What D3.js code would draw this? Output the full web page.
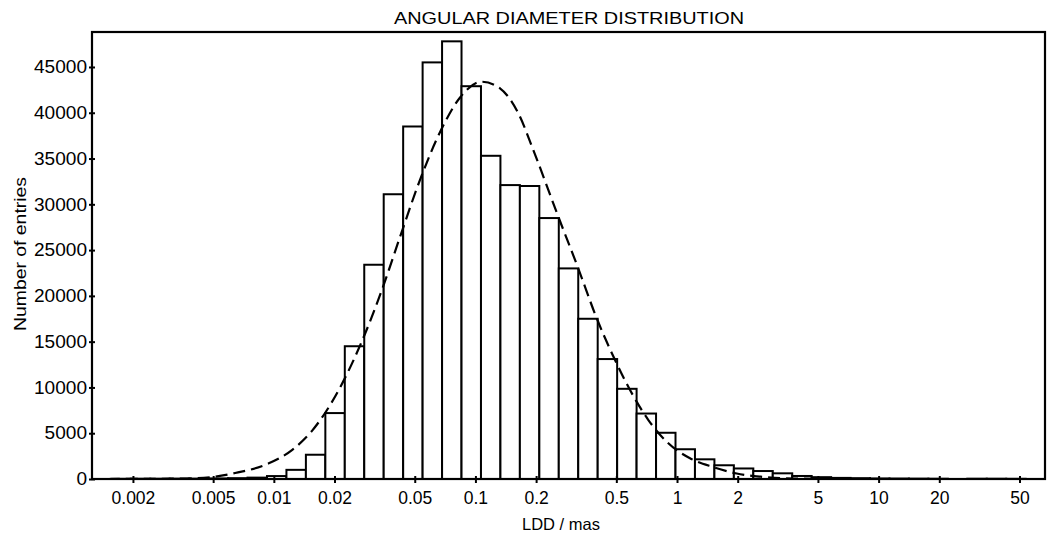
<!DOCTYPE html>
<html>
<head>
<meta charset="utf-8">
<script src="https://cdn.jsdelivr.net/npm/d3@7"></script>
<style>
  body { margin: 0; background: #fff; }
  svg text { font-family: "Liberation Sans", Arial, sans-serif; fill: #000; }
</style>
</head>
<body>
<svg id="chart" width="1051" height="542"></svg>
<script>
// histogram bins: log10 of the lower edge of each bin (mas), plus final upper edge
const binEdgesLog = [
  -2.806, -2.7095, -2.613, -2.5165, -2.420, -2.3235, -2.227, -2.1305,
  -2.034, -1.9375, -1.841, -1.7445, -1.648, -1.5515, -1.455, -1.3585,
  -1.262, -1.1655, -1.069, -0.9725, -0.876, -0.7795, -0.683, -0.5865,
  -0.490, -0.3935, -0.297, -0.2005, -0.104, -0.0075, 0.089, 0.1855,
  0.282, 0.3785, 0.475, 0.5715, 0.668, 0.7645, 0.861, 0.9575,
  1.054, 1.1505, 1.247, 1.3435, 1.440, 1.5365, 1.633, 1.7295
];
// number of entries in each bin
const binCounts = [
  20, 30, 30, 40, 40, 60, 90, 150,
  320, 1000, 2650, 7200, 14500, 23400, 31100, 38500,
  45500, 47800, 42900, 35300, 32100, 32000, 28500, 23000,
  17500, 13100, 9850, 7150, 5050, 3250, 2150, 1500,
  1150, 870, 620, 330, 200, 120, 90, 60,
  50, 40, 30, 0, 30, 30, 20
];
// fitted curve (dashed)
const fitX = [0.0015, 0.0035, 0.00493, 0.00643, 0.00944, 0.0123, 0.01546, 0.01795, 0.02213, 0.0273,
  0.0343, 0.0423, 0.0531, 0.0667, 0.0839, 0.1074, 0.1324, 0.1633, 0.1937, 0.2577,
  0.3236, 0.3997, 0.4926, 0.5847, 0.7211, 0.9057, 1.160, 1.514, 1.977, 2.6, 3.8, 7.2];
const fitY = [0, 40, 218, 650, 1715, 3160, 5260, 7210, 10690, 15010,
  20610, 26470, 32670, 37870, 41670, 43390, 42670, 39940, 35930, 28650,
  23010, 17550, 13000, 9720, 6440, 3900, 2260, 1300, 600, 250, 50, 0];

const xTicks = [0.002, 0.005, 0.01, 0.02, 0.05, 0.1, 0.2, 0.5, 1, 2, 5, 10, 20, 50];
const yTicks = [0, 5000, 10000, 15000, 20000, 25000, 30000, 35000, 40000, 45000];

const margin = { left: 92, top: 32, right: 1045, bottom: 479 };
const svg = d3.select("#chart");

const x = d3.scaleLog().domain([0.001253, 66.9]).range([margin.left, margin.right]);
const y = d3.scaleLinear().domain([0, 48820]).range([margin.bottom, margin.top]);

const bins = binCounts.map((c, i) => ({
  x0: Math.pow(10, binEdgesLog[i]),
  x1: Math.pow(10, binEdgesLog[i + 1]),
  count: c
}));

// bars
svg.append("g").selectAll("rect").data(bins).enter().append("rect")
  .attr("x", d => x(d.x0))
  .attr("width", d => x(d.x1) - x(d.x0))
  .attr("y", d => y(d.count))
  .attr("height", d => y(0) - y(d.count))
  .attr("fill", "#fff")
  .attr("stroke", "#000")
  .attr("stroke-width", 2);

// fit curve
const line = d3.line().x((d, i) => x(fitX[i])).y(d => y(d)).curve(d3.curveMonotoneX);
svg.append("path")
  .attr("d", line(fitY))
  .attr("fill", "none")
  .attr("stroke", "#000")
  .attr("stroke-width", 2.2)
  .attr("stroke-dasharray", "12,6");

// frame
svg.append("rect")
  .attr("x", margin.left).attr("y", margin.top)
  .attr("width", margin.right - margin.left).attr("height", margin.bottom - margin.top)
  .attr("fill", "none").attr("stroke", "#000").attr("stroke-width", 2.2);

// x axis
const xAxis = svg.append("g").attr("transform", `translate(0,${margin.bottom})`)
  .call(d3.axisBottom(x).tickValues(xTicks).tickFormat(d => String(d)).tickSize(4).tickPadding(9));
xAxis.select(".domain").remove();
xAxis.selectAll("line").attr("y1", -3).attr("stroke-width", 2);
xAxis.selectAll("text").style("font-size", "17.5px").style("font-family", "Liberation Sans, Arial, sans-serif");

// y axis (labels a little wider than the font, as in the original)
const yAxis = svg.append("g").attr("transform", `translate(${margin.left},0)`)
  .call(d3.axisLeft(y).tickValues(yTicks).tickFormat(d => String(d)).tickSize(3).tickPadding(2));
yAxis.select(".domain").remove();
yAxis.selectAll("line").attr("x1", 3).attr("stroke-width", 2);
yAxis.selectAll("text").style("font-size", "18px").style("font-family", "Liberation Sans, Arial, sans-serif")
  .attr("textLength", d => String(d).length * 10.6).attr("lengthAdjust", "spacingAndGlyphs");

// titles
svg.append("text").attr("x", 569).attr("y", 24).attr("text-anchor", "middle")
  .attr("textLength", 350).attr("lengthAdjust", "spacingAndGlyphs")
  .style("font-size", "17px").text("ANGULAR DIAMETER DISTRIBUTION");
svg.append("text").attr("x", 561).attr("y", 530).attr("text-anchor", "middle")
  .style("font-size", "16.5px").text("LDD / mas");
svg.append("text").attr("transform", "translate(26,254) rotate(-90)").attr("text-anchor", "middle")
  .attr("textLength", 154).attr("lengthAdjust", "spacingAndGlyphs")
  .style("font-size", "17px").text("Number of entries");
</script>
</body>
</html>
